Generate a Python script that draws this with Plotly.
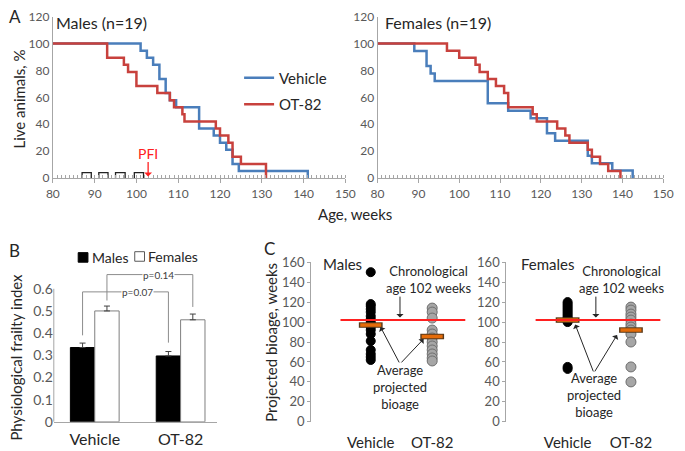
import plotly.graph_objects as go

W, H = 685, 451
def px(x): return x / W
def py(y): return 1 - y / H

FONT = "Lato, 'Open Sans', sans-serif"
BLUE = "#4A7EBB"
RED = "#C8413D"
AX = "#A6A6A6"
TXT = "#404040"
TICK = "#595959"
CLEAR = "rgba(0,0,0,0)"

# ---------------- Panel A: survival (weeks, % alive) ----------------
m_veh_wk = [80, 101, 102.5, 104, 105.5, 107, 108, 109.5, 115, 118.5, 120, 121.5, 123, 124.5, 141]
m_veh_pct = [100, 94.7, 89.5, 84.2, 73.7, 63.2, 57.9, 52.6, 36.8, 31.6, 26.3, 21.1, 10.5, 5.3, 0]
m_ot_wk = [80, 93, 97, 98, 100, 105, 108, 109, 111, 111.5, 119, 120, 122, 123, 125, 131]
m_ot_pct = [100, 89.5, 84.2, 78.9, 68.4, 63.2, 57.9, 52.6, 47.4, 42.1, 36.8, 31.6, 26.3, 15.8, 10.5, 0]
f_veh_wk = [80, 89, 92, 93, 94, 107, 112, 117.5, 121.5, 123.5, 131.5, 132.5, 137.5, 142.5]
f_veh_pct = [100, 94.4, 83.3, 77.8, 72.2, 55.6, 50, 44.4, 33.3, 27.8, 16.7, 11.1, 5.6, 0]
f_ot_wk = [80, 97, 100, 104, 105, 107, 109, 111, 112, 118, 119, 124, 126, 127, 131.5, 132.5, 134.5, 136.5, 139.5]
f_ot_pct = [100, 94.7, 89.5, 84.2, 78.9, 73.7, 68.4, 63.2, 52.6, 47.4, 42.1, 36.8, 31.6, 26.3, 21.1, 15.8, 10.5, 5.3, 0]
pfi_start = [87, 91, 95, 99.5]
pfi_end = [89.2, 93.2, 97.3, 101.7]
pfi_height = 4
pfi_week = 102.8

# ---------------- Panel B: frailty index ----------------
groups = ["Vehicle", "OT-82"]
frail_males = [0.335, 0.297]
frail_males_err = [0.02, 0.02]
frail_females = [0.50, 0.46]
frail_females_err = [0.022, 0.026]
p_labels = ["p=0.07", "p=0.14"]
p_tops = [0.586, 0.664]

# ---------------- Panel C: projected bioage ----------------
chrono_age = 102
bio_m_veh = [150, 118, 116, 113, 110, 106, 103, 100, 98, 95, 92, 88, 81, 72, 68, 65, 62]
bio_m_ot = [114, 110, 104, 92, 88, 84, 80, 76, 72, 68, 64, 61]
bio_f_veh = [120, 118, 116, 114, 112, 110, 108, 106, 104, 103, 102, 101, 100, 55, 53]
bio_f_ot = [115, 112, 108, 105, 102, 98, 95, 92, 88, 80, 55, 40]
mean_m = [97, 85.5]
mean_f = [102, 92]

fig = go.Figure()

# Panel A traces
fig.add_trace(go.Scatter(x=m_veh_wk, y=m_veh_pct, mode="lines", name="Vehicle",
                         line=dict(color=BLUE, width=2.5, shape="hv"),
                         legendgroup="v", xaxis="x", yaxis="y"))
fig.add_trace(go.Scatter(x=m_ot_wk, y=m_ot_pct, mode="lines", name="OT-82",
                         line=dict(color=RED, width=2.5, shape="hv"),
                         legendgroup="o", xaxis="x", yaxis="y"))
fig.add_trace(go.Scatter(x=f_veh_wk, y=f_veh_pct, mode="lines", showlegend=False,
                         line=dict(color=BLUE, width=2.5, shape="hv"), xaxis="x2", yaxis="y2"))
fig.add_trace(go.Scatter(x=f_ot_wk, y=f_ot_pct, mode="lines", showlegend=False,
                         line=dict(color=RED, width=2.5, shape="hv"), xaxis="x2", yaxis="y2"))
bx, by = [], []
for s, e in zip(pfi_start, pfi_end):
    bx += [s, s, e, e, None]
    by += [0, pfi_height, pfi_height, 0, None]
fig.add_trace(go.Scatter(x=bx, y=by, mode="lines", showlegend=False,
                         line=dict(color="#222222", width=1.3), xaxis="x", yaxis="y"))

# Panel B bars (numeric positions 0, 1 for the two groups)
gx = list(range(len(groups)))
fig.add_trace(go.Bar(x=gx, y=frail_males, name="Males", showlegend=False,
                     marker=dict(color="black", line=dict(color="black", width=1)),
                     error_y=dict(type="data", array=frail_males_err, arrayminus=[0, 0], symmetric=False,
                                  color="#404040", thickness=1, width=3),
                     xaxis="x3", yaxis="y3"))
fig.add_trace(go.Bar(x=gx, y=frail_females, name="Females", showlegend=False,
                     marker=dict(color="white", line=dict(color="#7F7F7F", width=1)),
                     error_y=dict(type="data", array=frail_females_err, arrayminus=[0, 0], symmetric=False,
                                  color="#404040", thickness=1, width=3),
                     xaxis="x3", yaxis="y3"))

# p-value brackets (built from bar tops)
half = 0.142
m_top = [v + e for v, e in zip(frail_males, frail_males_err)]
f_top = [v + e for v, e in zip(frail_females, frail_females_err)]
br = [
    ([gx[0] - half, gx[1] - half], [m_top[0] + 0.035, m_top[1] + 0.04], p_tops[0]),
    ([gx[0] + half, gx[1] + half], [f_top[0] + 0.025, f_top[1] + 0.032], p_tops[1]),
]
for (x0, x1), (b0, b1), top in br:
    fig.add_trace(go.Scatter(x=[x0, x0, x1, x1], y=[b0, top, top, b1], mode="lines",
                             showlegend=False, line=dict(color="#8C8C8C", width=1),
                             xaxis="x3", yaxis="y3"))

# Panel C scatters
def add_bio(vals, xi, filled, xa, ya):
    fig.add_trace(go.Scatter(
        x=[xi] * len(vals), y=vals, mode="markers", showlegend=False,
        marker=dict(size=9 if filled else 10,
                    color="black" if filled else "#A6A6A6",
                    line=dict(color="black" if filled else "#6E6E6E", width=1)),
        xaxis=xa, yaxis=ya, cliponaxis=False))

add_bio(bio_m_veh, 0, True, "x4", "y4")
add_bio(bio_m_ot, 1, False, "x4", "y4")
add_bio(bio_f_veh, 0, True, "x5", "y5")
add_bio(bio_f_ot, 1, False, "x5", "y5")
for means, xa, ya in [(mean_m, "x4", "y4"), (mean_f, "x5", "y5")]:
    fig.add_trace(go.Scatter(x=[0, 1], y=means, mode="markers", showlegend=False,
                             marker=dict(symbol="line-ew", size=17, line=dict(color="#5A3A1A", width=5.5)),
                             xaxis=xa, yaxis=ya, cliponaxis=False))
    fig.add_trace(go.Scatter(x=[0, 1], y=means, mode="markers", showlegend=False,
                             marker=dict(symbol="line-ew", size=15, line=dict(color="#E46C0A", width=3.5)),
                             xaxis=xa, yaxis=ya, cliponaxis=False))

# ---------------- Layout ----------------
axA_x = dict(range=[80, 150], dtick=10, showline=True, linecolor=AX, linewidth=1,
             ticks="outside", ticklen=4, tickcolor=AX, showgrid=False, zeroline=False,
             minor=dict(dtick=1, ticks="inside", ticklen=3, tickcolor=AX),
             tickfont=dict(size=12, color=TICK))
axA_y = dict(range=[0, 120], dtick=20, showline=True, linecolor=AX, linewidth=1,
             ticks="", showgrid=False, zeroline=False, tickfont=dict(size=12, color=TICK))
axC_x = dict(range=[-0.968, 1.603], tickvals=[0, 1], ticktext=groups, showline=False,
             ticks="outside", ticklen=7, tickcolor=CLEAR, showgrid=False, zeroline=False,
             tickfont=dict(size=15, color="#262626"))
axC_y = dict(range=[0, 160], dtick=20, showline=True, linecolor=AX, linewidth=1,
             ticks="outside", ticklen=3, tickcolor=AX, showgrid=False, zeroline=False,
             tickfont=dict(size=13, color=TICK))

fig.update_layout(
    width=W, height=H, margin=dict(l=0, r=0, t=0, b=0),
    paper_bgcolor="white", plot_bgcolor="white",
    font=dict(family=FONT, color=TXT),
    barmode="group", bargap=0.432, bargroupgap=0,
    xaxis=dict(domain=[px(47), px(347)], anchor="y", **axA_x),
    yaxis=dict(domain=[py(178), py(9)], anchor="x", **axA_y),
    xaxis2=dict(domain=[px(380), px(673)], anchor="y2", **axA_x),
    yaxis2=dict(domain=[py(178), py(9)], anchor="x2", **axA_y),
    xaxis3=dict(domain=[px(48), px(215)], anchor="y3", range=[-0.477, 1.42],
                tickvals=gx, ticktext=groups, showline=True,
                linecolor=AX, ticks="outside", ticklen=3, tickcolor=CLEAR,
                showgrid=False, zeroline=False,
                tickfont=dict(size=16, color="#262626")),
    yaxis3=dict(domain=[py(433), py(270.6)], anchor="x3", range=[0, 0.7],
                tickvals=[0, 0.1, 0.2, 0.3, 0.4, 0.5, 0.6],
                ticktext=["0", "0.1", "0.2", "0.3", "0.4", "0.5", "0.6"],
                showline=False, ticks="", showgrid=False, zeroline=False,
                tickfont=dict(size=14, color=TICK)),
    xaxis4=dict(domain=[px(312), px(474)], anchor="y4", **axC_x),
    yaxis4=dict(domain=[py(433), py(266)], anchor="x4", **axC_y),
    xaxis5=dict(domain=[px(512), px(679)], anchor="y5", **axC_x),
    yaxis5=dict(domain=[py(433), py(266)], anchor="x5", **axC_y),
    legend=dict(x=px(238), y=py(56), xanchor="left", yanchor="top",
                font=dict(size=15, color="#262626"), bgcolor="rgba(0,0,0,0)",
                tracegroupgap=4, itemwidth=30),
)

shapes = [
    dict(type="line", xref="x3 domain", yref="y3", x0=0, x1=0, y0=0, y1=0.6,
         line=dict(color=AX, width=1)),
    dict(type="line", xref="x4 domain", yref="y4", x0=0.185, x1=0.975, y0=chrono_age, y1=chrono_age,
         line=dict(color="#FF2020", width=2)),
    dict(type="line", xref="x5 domain", yref="y5", x0=0.18, x1=0.946, y0=chrono_age, y1=chrono_age,
         line=dict(color="#FF2020", width=2)),
    # panel B legend swatches
    dict(type="rect", xref="paper", yref="paper", x0=px(73), x1=px(83), y0=py(266), y1=py(256),
         fillcolor="black", line=dict(color="black", width=1)),
    dict(type="rect", xref="paper", yref="paper", x0=px(131), x1=px(141), y0=py(265), y1=py(255),
         fillcolor="white", line=dict(color="#595959", width=1)),
]
fig.update_layout(shapes=shapes)

ann = []
def ptxt(x, y, t, size=15, color="#262626", angle=0, xanchor="center"):
    ann.append(dict(x=px(x), y=py(y), xref="paper", yref="paper", text=t, showarrow=False,
                    font=dict(size=size, color=color), textangle=angle,
                    xanchor=xanchor, yanchor="middle"))

ptxt(0, 9, "A", 17, xanchor="left")
ptxt(0, 254, "B", 17, xanchor="left")
ptxt(261, 252, "C", 17, xanchor="left")
ptxt(97, 15, "Males (n=19)", 16)
ptxt(442, 15, "Females (n=19)", 16)
ptxt(357, 216, "Age, weeks", 15)
ptxt(12, 95, "Live animals, %", 15, angle=-90)
ptxt(9, 365, "Physiological frailty index", 15, angle=-90)
ptxt(271, 350, "Projected bioage, weeks", 15, angle=-90)
ptxt(85, 261, "Males", 14, xanchor="left")
ptxt(143, 260, "Females", 14, xanchor="left")

# PFI label and arrow
ann.append(dict(x=pfi_week, y=18.5, xref="x", yref="y", text="PFI", showarrow=False,
                font=dict(size=14, color="#FF2020")))
ann.append(dict(x=pfi_week, y=1.2, ax=pfi_week, ay=13, xref="x", yref="y", axref="x", ayref="y",
                text="", showarrow=True, arrowhead=1, arrowsize=1, arrowwidth=1.3,
                arrowcolor="#FF2020"))

# p-value labels
for lab, xc, top in zip(p_labels, [0.5, 0.74], p_tops):
    ann.append(dict(x=xc, y=top, xref="x3", yref="y3", text=lab, showarrow=False,
                    font=dict(size=10, color="#404040"), bgcolor="white", borderpad=0))

# Panel C text / arrows
def c_notes(xa, ya, title, tx, chrono_x, chrono_arrow_x, avg_x, avg_y, tail, heads):
    ann.append(dict(x=tx, y=158, xref=xa, yref=ya, text=title, showarrow=False,
                    font=dict(size=15, color="#262626"), xanchor="left"))
    ann.append(dict(x=chrono_x, y=142.5, xref=xa, yref=ya,
                    text="Chronological<br>age 102 weeks", showarrow=False,
                    font=dict(size=13, color="#262626")))
    ann.append(dict(x=chrono_arrow_x, y=chrono_age + 2.5, ax=chrono_arrow_x, ay=127,
                    xref=xa, yref=ya, axref=xa, ayref=ya, text="", showarrow=True,
                    arrowhead=1, arrowsize=1.2, arrowwidth=1, arrowcolor="#262626"))
    ann.append(dict(x=avg_x, y=avg_y, xref=xa, yref=ya,
                    text="Average<br>projected<br>bioage", showarrow=False,
                    font=dict(size=13, color="#262626")))
    for hx, hy in heads:
        ann.append(dict(x=hx, y=hy, ax=tail[0], ay=tail[1], xref=xa, yref=ya, axref=xa, ayref=ya,
                        text="", showarrow=True, arrowhead=1, arrowsize=1.2, arrowwidth=1,
                        arrowcolor="#262626"))

c_notes("x4", "y4", "Males", -0.81, 0.94, 0.476, 0.476, 35,
        (0.476, 58), [(0.16, 95), (0.86, 83)])
c_notes("x5", "y5", "Females", -0.77, 0.85, 0.446, 0.415, 27,
        (0.415, 49), [(0.12, 97.5), (0.78, 87)])

fig.update_layout(annotations=ann)
fig.write_html("out.html", config={"displayModeBar": False},
               post_script="document.body.style.margin='0px';")
